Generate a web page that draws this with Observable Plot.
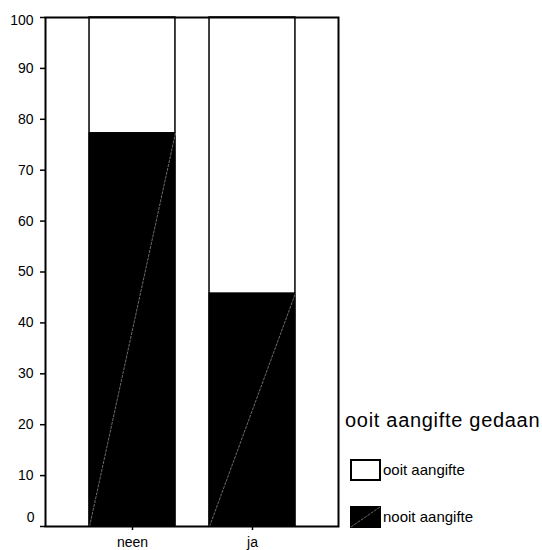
<!DOCTYPE html>
<html>
<head>
<meta charset="utf-8">
<script src="https://cdn.jsdelivr.net/npm/d3@7"></script>
<script src="https://cdn.jsdelivr.net/npm/@observablehq/plot@0.6"></script>
<style>
  html, body { margin: 0; padding: 0; background: #fff; }
  #wrap { position: relative; width: 542px; height: 550px; font-family: "Liberation Sans", Arial, sans-serif; color: #000; }
  #wrap svg { position: absolute; left: 0; top: 0; }
  .lg { position: absolute; white-space: nowrap; line-height: 1; }
</style>
</head>
<body>
<div id="wrap"></div>
<script>
// ---- data ----
const categories = ["neen", "ja"];
const nooitAangifte = [77.3, 45.8];   // black segment (%)
const ooitAangifte = [22.7, 54.2];    // white segment (%)
const yTicks = [0, 10, 20, 30, 40, 50, 60, 70, 80, 90, 100];
const legendTitle = "ooit aangifte gedaan";
const legendLabels = ["ooit aangifte", "nooit aangifte"];

// ---- table ----
const hw = 0.358; // half bar width in category units
const rows = categories.map((c, i) => ({
  i, cat: c, nooit: nooitAangifte[i], ooit: ooitAangifte[i],
  total: nooitAangifte[i] + ooitAangifte[i]
}));

const font = "Liberation Sans, Arial, sans-serif";
const plot = Plot.plot({
  width: 542,
  height: 550,
  marginLeft: 45,
  marginRight: 204,
  marginTop: 17,
  marginBottom: 24,
  style: { fontFamily: font, fontSize: "14px", background: "transparent", overflow: "visible" },
  x: { type: "linear", domain: [-0.725, 1.717] },
  y: { domain: [0, 100] },
  marks: [
    // white (ooit) full bar with outline
    Plot.rectY(rows, { x1: d => d.i - hw, x2: d => d.i + hw, y1: 0, y2: d => d.total, fill: "white", stroke: "black", strokeWidth: 1.5 }),
    // black (nooit) segment
    Plot.rectY(rows, { x1: d => d.i - hw, x2: d => d.i + hw, y1: 0, y2: d => d.nooit, fill: "black", stroke: "black", strokeWidth: 1 }),
    // thin diagonal highlight
    Plot.link(rows, { x1: d => d.i - hw, y1: 0, x2: d => d.i + hw, y2: d => d.nooit, stroke: "#d8d8d8", strokeWidth: 0.5, strokeDasharray: "3,1" }),
    Plot.frame({ stroke: "black", strokeWidth: 2 }),
    Plot.axisY(yTicks.filter(t => t > 0 && t < 100), { tickSize: 5, tickPadding: 7, strokeWidth: 1.5, fontSize: 14, label: null }),
    Plot.axisY([0], { tickSize: 5, tickPadding: 7, strokeWidth: 1.5, fontSize: 14, label: null, text: null }),
    Plot.axisY([100], { tickSize: 5, tickPadding: 7, strokeWidth: 1.5, fontSize: 14, label: null, text: null }),
    Plot.text([0], { x: -0.725, y: d => d, text: d => String(d), textAnchor: "end", dx: -11, dy: -9, fontSize: 14 }),
    Plot.text([100], { x: -0.725, y: d => d, text: d => String(d), textAnchor: "end", dx: -12, dy: 3, fontSize: 14 }),
    Plot.axisX(rows.map(d => d.i), { tickSize: 4, tickPadding: 7, strokeWidth: 1.5, tickFormat: i => categories[i], fontSize: 14, label: null })
  ]
});

const wrap = document.getElementById("wrap");
wrap.appendChild(plot);

// ---- legend ----
function add(html, style) {
  const el = document.createElement("div");
  el.className = "lg";
  el.innerHTML = html;
  Object.assign(el.style, style);
  wrap.appendChild(el);
  return el;
}
add(legendTitle, { left: "345px", top: "410px", fontSize: "20px", letterSpacing: "0.7px" });
add('<svg width="31" height="22"><rect x="1" y="1" width="29" height="20" fill="white" stroke="black" stroke-width="2"/></svg>', { left: "350px", top: "459px" });
add(legendLabels[0], { left: "383px", top: "462px", fontSize: "15px" });
add('<svg width="31" height="22"><rect x="1" y="1" width="29" height="20" fill="black" stroke="black" stroke-width="2"/><line x1="1" y1="21" x2="30" y2="1" stroke="#d8d8d8" stroke-width="0.5" stroke-dasharray="3,1"/></svg>', { left: "350px", top: "506px" });
add(legendLabels[1], { left: "383px", top: "509px", fontSize: "15px" });
</script>
</body>
</html>
